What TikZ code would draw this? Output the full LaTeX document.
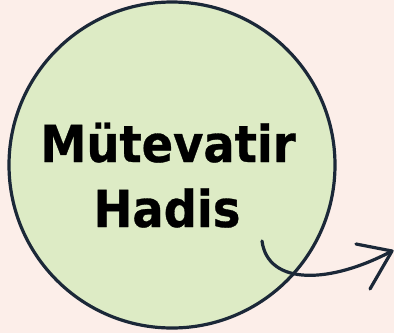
\documentclass[tikz,border=0pt]{standalone}
\usepackage{fontspec}
\setmainfont{DejaVu Sans}[FakeStretch=0.91,BoldFeatures={FakeBold=0.6}]
\definecolor{bgpink}{HTML}{FCEEE9}
\definecolor{leaf}{HTML}{DDEBC5}
\definecolor{ink}{HTML}{1B2838}
\begin{document}
\begin{tikzpicture}[x=1pt,y=-1pt,
  label/.style={font=\fontsize{51}{60}\selectfont\bfseries, text=black, inner sep=0pt, anchor=base},
  stroke/.style={draw=ink, line width=3.2pt, line cap=round, line join=round}]
\fill[bgpink] (0,0) rectangle (394,333);
\useasboundingbox (0,0) rectangle (394,333);
\node[circle, minimum size=326pt, inner sep=0pt, fill=leaf, stroke] (c) at (172,165) {};
\node[label] (t1) at (168,162) {Mütevatir};
\node[label] (t2) at (167,227) {Hadis};
\coordinate (s) at (262,241);
\coordinate (e) at (392,251);
\coordinate (b1) at (356,244);
\coordinate (b2) at (370,289);
\draw[stroke] (s) .. controls (268,286) and (330,284) .. (e);
\draw[stroke] (b1) -- (e) -- (b2);
\end{tikzpicture}
\end{document}
